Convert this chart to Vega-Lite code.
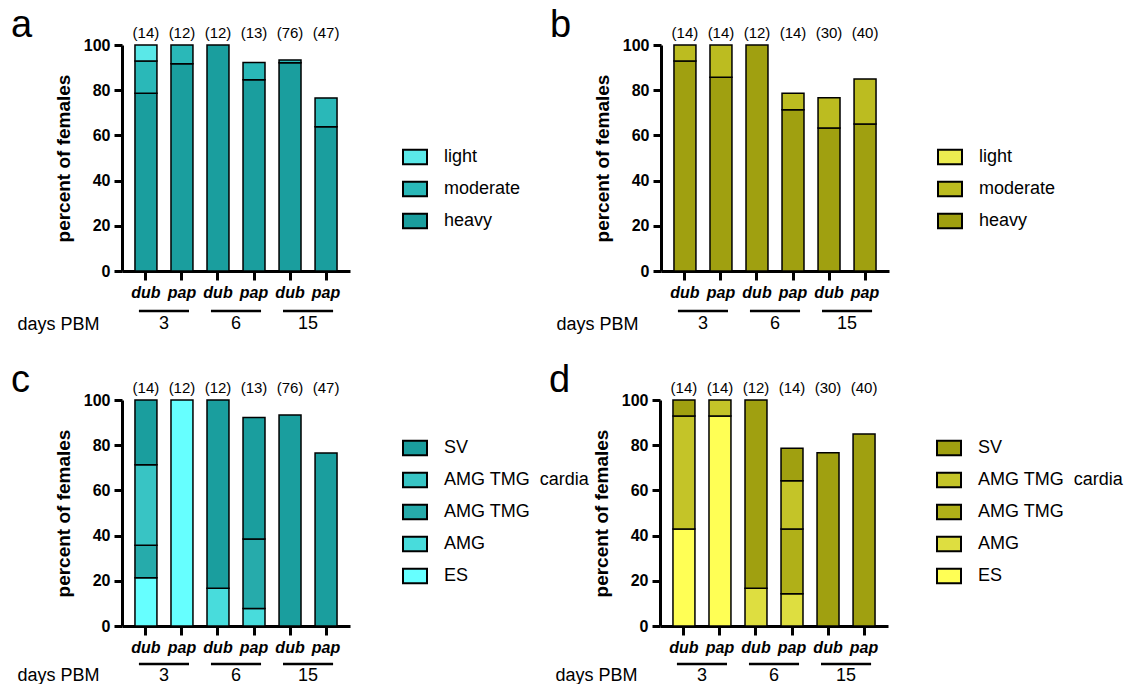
{
  "$schema": "https://vega.github.io/schema/vega-lite/v6.json",
  "padding": {"left": 10, "top": 7, "right": 0, "bottom": 0},
  "background": "white",
  "datasets": {
    "bars": [
      {"panel": "a", "group": "3 dub", "cat": "heavy", "ord": 1, "value": 78.6},
      {"panel": "a", "group": "3 dub", "cat": "moderate", "ord": 2, "value": 14.3},
      {"panel": "a", "group": "3 dub", "cat": "light", "ord": 3, "value": 7.1},
      {"panel": "a", "group": "3 pap", "cat": "heavy", "ord": 1, "value": 91.7},
      {"panel": "a", "group": "3 pap", "cat": "moderate", "ord": 2, "value": 8.3},
      {"panel": "a", "group": "6 dub", "cat": "heavy", "ord": 1, "value": 100},
      {"panel": "a", "group": "6 pap", "cat": "heavy", "ord": 1, "value": 84.6},
      {"panel": "a", "group": "6 pap", "cat": "moderate", "ord": 2, "value": 7.7},
      {"panel": "a", "group": "15 dub", "cat": "heavy", "ord": 1, "value": 92.1},
      {"panel": "a", "group": "15 dub", "cat": "moderate", "ord": 2, "value": 1.3},
      {"panel": "a", "group": "15 pap", "cat": "heavy", "ord": 1, "value": 63.8},
      {"panel": "a", "group": "15 pap", "cat": "moderate", "ord": 2, "value": 12.8},
      {"panel": "b", "group": "3 dub", "cat": "heavy", "ord": 1, "value": 92.9},
      {"panel": "b", "group": "3 dub", "cat": "moderate", "ord": 2, "value": 7.1},
      {"panel": "b", "group": "3 pap", "cat": "heavy", "ord": 1, "value": 85.7},
      {"panel": "b", "group": "3 pap", "cat": "moderate", "ord": 2, "value": 14.3},
      {"panel": "b", "group": "6 dub", "cat": "heavy", "ord": 1, "value": 100},
      {"panel": "b", "group": "6 pap", "cat": "heavy", "ord": 1, "value": 71.4},
      {"panel": "b", "group": "6 pap", "cat": "moderate", "ord": 2, "value": 7.2},
      {"panel": "b", "group": "15 dub", "cat": "heavy", "ord": 1, "value": 63.3},
      {"panel": "b", "group": "15 dub", "cat": "moderate", "ord": 2, "value": 13.4},
      {"panel": "b", "group": "15 pap", "cat": "heavy", "ord": 1, "value": 65},
      {"panel": "b", "group": "15 pap", "cat": "moderate", "ord": 2, "value": 20},
      {"panel": "c", "group": "3 dub", "cat": "ES", "ord": 1, "value": 21.4},
      {"panel": "c", "group": "3 dub", "cat": "AMG TMG", "ord": 3, "value": 14.3},
      {"panel": "c", "group": "3 dub", "cat": "AMG TMG \u00a0cardia", "ord": 4, "value": 35.7},
      {"panel": "c", "group": "3 dub", "cat": "SV", "ord": 5, "value": 28.6},
      {"panel": "c", "group": "3 pap", "cat": "ES", "ord": 1, "value": 100},
      {"panel": "c", "group": "6 dub", "cat": "AMG", "ord": 2, "value": 16.7},
      {"panel": "c", "group": "6 dub", "cat": "SV", "ord": 5, "value": 83.3},
      {"panel": "c", "group": "6 pap", "cat": "AMG", "ord": 2, "value": 7.7},
      {"panel": "c", "group": "6 pap", "cat": "AMG TMG", "ord": 3, "value": 30.8},
      {"panel": "c", "group": "6 pap", "cat": "SV", "ord": 5, "value": 53.8},
      {"panel": "c", "group": "15 dub", "cat": "SV", "ord": 5, "value": 93.4},
      {"panel": "c", "group": "15 pap", "cat": "SV", "ord": 5, "value": 76.6},
      {"panel": "d", "group": "3 dub", "cat": "ES", "ord": 1, "value": 42.9},
      {"panel": "d", "group": "3 dub", "cat": "AMG TMG \u00a0cardia", "ord": 4, "value": 50},
      {"panel": "d", "group": "3 dub", "cat": "SV", "ord": 5, "value": 7.1},
      {"panel": "d", "group": "3 pap", "cat": "ES", "ord": 1, "value": 92.9},
      {"panel": "d", "group": "3 pap", "cat": "AMG TMG \u00a0cardia", "ord": 4, "value": 7.1},
      {"panel": "d", "group": "6 dub", "cat": "AMG", "ord": 2, "value": 16.7},
      {"panel": "d", "group": "6 dub", "cat": "SV", "ord": 5, "value": 83.3},
      {"panel": "d", "group": "6 pap", "cat": "AMG", "ord": 2, "value": 14.3},
      {"panel": "d", "group": "6 pap", "cat": "AMG TMG", "ord": 3, "value": 28.6},
      {"panel": "d", "group": "6 pap", "cat": "AMG TMG \u00a0cardia", "ord": 4, "value": 21.4},
      {"panel": "d", "group": "6 pap", "cat": "SV", "ord": 5, "value": 14.3},
      {"panel": "d", "group": "15 dub", "cat": "SV", "ord": 5, "value": 76.7},
      {"panel": "d", "group": "15 pap", "cat": "SV", "ord": 5, "value": 85}
    ],
    "counts": [
      {"panel": "a", "group": "3 dub", "n": "(14)"}, {"panel": "a", "group": "3 pap", "n": "(12)"},
      {"panel": "a", "group": "6 dub", "n": "(12)"}, {"panel": "a", "group": "6 pap", "n": "(13)"},
      {"panel": "a", "group": "15 dub", "n": "(76)"}, {"panel": "a", "group": "15 pap", "n": "(47)"},
      {"panel": "b", "group": "3 dub", "n": "(14)"}, {"panel": "b", "group": "3 pap", "n": "(14)"},
      {"panel": "b", "group": "6 dub", "n": "(12)"}, {"panel": "b", "group": "6 pap", "n": "(14)"},
      {"panel": "b", "group": "15 dub", "n": "(30)"}, {"panel": "b", "group": "15 pap", "n": "(40)"},
      {"panel": "c", "group": "3 dub", "n": "(14)"}, {"panel": "c", "group": "3 pap", "n": "(12)"},
      {"panel": "c", "group": "6 dub", "n": "(12)"}, {"panel": "c", "group": "6 pap", "n": "(13)"},
      {"panel": "c", "group": "15 dub", "n": "(76)"}, {"panel": "c", "group": "15 pap", "n": "(47)"},
      {"panel": "d", "group": "3 dub", "n": "(14)"}, {"panel": "d", "group": "3 pap", "n": "(14)"},
      {"panel": "d", "group": "6 dub", "n": "(12)"}, {"panel": "d", "group": "6 pap", "n": "(14)"},
      {"panel": "d", "group": "15 dub", "n": "(30)"}, {"panel": "d", "group": "15 pap", "n": "(40)"}
    ],
    "groups": [
      {"day": "3", "x1": "3 dub", "x2": "3 pap"},
      {"day": "6", "x1": "6 dub", "x2": "6 pap"},
      {"day": "15", "x1": "15 dub", "x2": "15 pap"}
    ]
  },
  "vconcat": [
    {
      "hconcat": [
        {
          "title": {"text": "a"},
          "width": 228, "height": 226,
          "layer": [
            {
              "data": {"name": "bars"},
              "transform": [{"filter": "datum.panel == 'a'"}],
              "mark": {"type": "bar", "stroke": "black", "strokeWidth": 1.5},
              "encoding": {
                "x": {"field": "group", "type": "nominal", "title": "days PBM", "scale": {"domain": ["3 dub", "3 pap", "6 dub", "6 pap", "15 dub", "15 pap"], "paddingInner": 0.39, "paddingOuter": 0.36}},
                "y": {"field": "value", "type": "quantitative", "stack": "zero", "title": "percent of females", "scale": {"domain": [0, 100]}},
                "color": {"field": "cat", "type": "nominal", "scale": {"domain": ["light", "moderate", "heavy"], "range": ["#5ae8e8", "#2ab8b8", "#1a9e9e"]}, "legend": {"orient": "none", "legendX": 280, "legendY": 99}},
                "order": {"field": "ord", "type": "quantitative"}
              }
            },
            {
              "data": {"name": "counts"},
              "transform": [{"filter": "datum.panel == 'a'"}],
              "mark": {"type": "text", "fontSize": 15, "dy": -12, "baseline": "middle"},
              "encoding": {
                "x": {"field": "group", "type": "nominal", "title": "days PBM"},
                "y": {"datum": 100},
                "text": {"field": "n"}
              }
            },
            {
              "data": {"name": "groups"},
              "mark": {"type": "rule", "color": "black", "strokeWidth": 2.5, "yOffset": 40},
              "encoding": {
                "x": {"field": "x1", "type": "nominal", "bandPosition": 0.18, "title": "days PBM"},
                "x2": {"field": "x2", "bandPosition": 0.82},
                "y": {"datum": 0}
              }
            },
            {
              "data": {"name": "groups"},
              "mark": {"type": "text", "fontSize": 18, "dy": 53, "baseline": "middle"},
              "encoding": {
                "x": {"field": "x1", "type": "nominal", "bandPosition": 1.32, "title": "days PBM"},
                "y": {"datum": 0},
                "text": {"field": "day"}
              }
            }
          ]
        },
        {
          "title": {"text": "b"},
          "width": 228, "height": 226,
          "layer": [
            {
              "data": {"name": "bars"},
              "transform": [{"filter": "datum.panel == 'b'"}],
              "mark": {"type": "bar", "stroke": "black", "strokeWidth": 1.5},
              "encoding": {
                "x": {"field": "group", "type": "nominal", "title": "days PBM", "scale": {"domain": ["3 dub", "3 pap", "6 dub", "6 pap", "15 dub", "15 pap"], "paddingInner": 0.39, "paddingOuter": 0.36}},
                "y": {"field": "value", "type": "quantitative", "stack": "zero", "title": "percent of females", "scale": {"domain": [0, 100]}},
                "color": {"field": "cat", "type": "nominal", "scale": {"domain": ["light", "moderate", "heavy"], "range": ["#ecec50", "#bcbc20", "#a0a010"]}, "legend": {"orient": "none", "legendX": 276, "legendY": 99}},
                "order": {"field": "ord", "type": "quantitative"}
              }
            },
            {
              "data": {"name": "counts"},
              "transform": [{"filter": "datum.panel == 'b'"}],
              "mark": {"type": "text", "fontSize": 15, "dy": -12, "baseline": "middle"},
              "encoding": {
                "x": {"field": "group", "type": "nominal", "title": "days PBM"},
                "y": {"datum": 100},
                "text": {"field": "n"}
              }
            },
            {
              "data": {"name": "groups"},
              "mark": {"type": "rule", "color": "black", "strokeWidth": 2.5, "yOffset": 40},
              "encoding": {
                "x": {"field": "x1", "type": "nominal", "bandPosition": 0.18, "title": "days PBM"},
                "x2": {"field": "x2", "bandPosition": 0.82},
                "y": {"datum": 0}
              }
            },
            {
              "data": {"name": "groups"},
              "mark": {"type": "text", "fontSize": 18, "dy": 53, "baseline": "middle"},
              "encoding": {
                "x": {"field": "x1", "type": "nominal", "bandPosition": 1.32, "title": "days PBM"},
                "y": {"datum": 0},
                "text": {"field": "day"}
              }
            }
          ]
        }
      ],
      "spacing": 28,
      "resolve": {"scale": {"color": "independent"}, "legend": {"color": "independent"}}
    },
    {
      "hconcat": [
        {
          "title": {"text": "c"},
          "width": 228, "height": 226,
          "layer": [
            {
              "data": {"name": "bars"},
              "transform": [{"filter": "datum.panel == 'c'"}],
              "mark": {"type": "bar", "stroke": "black", "strokeWidth": 1.5},
              "encoding": {
                "x": {"field": "group", "type": "nominal", "title": "days PBM", "axis": {"titleY": 54}, "scale": {"domain": ["3 dub", "3 pap", "6 dub", "6 pap", "15 dub", "15 pap"], "paddingInner": 0.39, "paddingOuter": 0.36}},
                "y": {"field": "value", "type": "quantitative", "stack": "zero", "title": "percent of females", "scale": {"domain": [0, 100]}},
                "color": {"field": "cat", "type": "nominal", "scale": {"domain": ["SV", "AMG TMG \u00a0cardia", "AMG TMG", "AMG", "ES"], "range": ["#1a9e9e", "#38c4c4", "#26abab", "#48dcdc", "#66ffff"]}, "legend": {"orient": "none", "legendX": 280, "legendY": 35}},
                "order": {"field": "ord", "type": "quantitative"}
              }
            },
            {
              "data": {"name": "counts"},
              "transform": [{"filter": "datum.panel == 'c'"}],
              "mark": {"type": "text", "fontSize": 15, "dy": -12, "baseline": "middle"},
              "encoding": {
                "x": {"field": "group", "type": "nominal", "title": "days PBM"},
                "y": {"datum": 100},
                "text": {"field": "n"}
              }
            },
            {
              "data": {"name": "groups"},
              "mark": {"type": "rule", "color": "black", "strokeWidth": 2.5, "yOffset": 38},
              "encoding": {
                "x": {"field": "x1", "type": "nominal", "bandPosition": 0.18, "title": "days PBM"},
                "x2": {"field": "x2", "bandPosition": 0.82},
                "y": {"datum": 0}
              }
            },
            {
              "data": {"name": "groups"},
              "mark": {"type": "text", "fontSize": 18, "dy": 50, "baseline": "middle"},
              "encoding": {
                "x": {"field": "x1", "type": "nominal", "bandPosition": 1.32, "title": "days PBM"},
                "y": {"datum": 0},
                "text": {"field": "day"}
              }
            }
          ]
        },
        {
          "title": {"text": "d"},
          "width": 228, "height": 226,
          "layer": [
            {
              "data": {"name": "bars"},
              "transform": [{"filter": "datum.panel == 'd'"}],
              "mark": {"type": "bar", "stroke": "black", "strokeWidth": 1.5},
              "encoding": {
                "x": {"field": "group", "type": "nominal", "title": "days PBM", "axis": {"titleY": 54}, "scale": {"domain": ["3 dub", "3 pap", "6 dub", "6 pap", "15 dub", "15 pap"], "paddingInner": 0.39, "paddingOuter": 0.36}},
                "y": {"field": "value", "type": "quantitative", "stack": "zero", "title": "percent of females", "scale": {"domain": [0, 100]}},
                "color": {"field": "cat", "type": "nominal", "scale": {"domain": ["SV", "AMG TMG \u00a0cardia", "AMG TMG", "AMG", "ES"], "range": ["#a0a010", "#c4c428", "#b0b018", "#dede40", "#ffff55"]}, "legend": {"orient": "none", "legendX": 276, "legendY": 35}},
                "order": {"field": "ord", "type": "quantitative"}
              }
            },
            {
              "data": {"name": "counts"},
              "transform": [{"filter": "datum.panel == 'd'"}],
              "mark": {"type": "text", "fontSize": 15, "dy": -12, "baseline": "middle"},
              "encoding": {
                "x": {"field": "group", "type": "nominal", "title": "days PBM"},
                "y": {"datum": 100},
                "text": {"field": "n"}
              }
            },
            {
              "data": {"name": "groups"},
              "mark": {"type": "rule", "color": "black", "strokeWidth": 2.5, "yOffset": 38},
              "encoding": {
                "x": {"field": "x1", "type": "nominal", "bandPosition": 0.18, "title": "days PBM"},
                "x2": {"field": "x2", "bandPosition": 0.82},
                "y": {"datum": 0}
              }
            },
            {
              "data": {"name": "groups"},
              "mark": {"type": "text", "fontSize": 18, "dy": 50, "baseline": "middle"},
              "encoding": {
                "x": {"field": "x1", "type": "nominal", "bandPosition": 1.32, "title": "days PBM"},
                "y": {"datum": 0},
                "text": {"field": "day"}
              }
            }
          ]
        }
      ],
      "spacing": -42,
      "resolve": {"scale": {"color": "independent"}, "legend": {"color": "independent"}}
    }
  ],
  "spacing": 29,
  "resolve": {"scale": {"color": "independent"}, "legend": {"color": "independent"}},
  "config": {
    "font": "Liberation Sans",
    "view": {"stroke": null},
    "text": {"font": "Liberation Sans", "color": "black"},
    "title": {"fontSize": 38, "fontWeight": "normal", "anchor": "start", "frame": "bounds", "baseline": "alphabetic", "offset": 0, "dx": -6, "dy": 23, "color": "black", "font": "Liberation Sans"},
    "axis": {"domainColor": "black", "tickColor": "black", "labelColor": "black", "titleColor": "black", "grid": false, "labelFont": "Liberation Sans", "titleFont": "Liberation Sans"},
    "axisY": {"domainWidth": 3, "tickWidth": 3, "tickSize": 8, "labelFontSize": 16, "labelFontWeight": "bold", "labelPadding": 4, "titleFontSize": 19, "titleFontWeight": "bold", "titlePadding": 10, "values": [0, 20, 40, 60, 80, 100]},
    "axisX": {"domainWidth": 3, "tickWidth": 3, "tickSize": 9, "labelFontSize": 16, "labelFontWeight": "bold", "labelFontStyle": "italic", "labelAngle": 0, "labelPadding": 4, "labelExpr": "split(datum.label, ' ')[1]", "titleFontSize": 18, "titleFontWeight": "normal", "titleX": -64, "titleY": 58, "titleAlign": "center", "titleBaseline": "alphabetic", "titleAnchor": "start"},
    "legend": {"title": null, "padding": 0, "labelFontSize": 18, "labelFont": "Liberation Sans", "labelColor": "black", "labelOffset": 16, "symbolType": "M-1,-0.6H1V0.6H-1Z", "symbolSize": 576, "symbolStrokeColor": "black", "symbolStrokeWidth": 2, "symbolOpacity": 1, "rowPadding": 7}
  }
}
